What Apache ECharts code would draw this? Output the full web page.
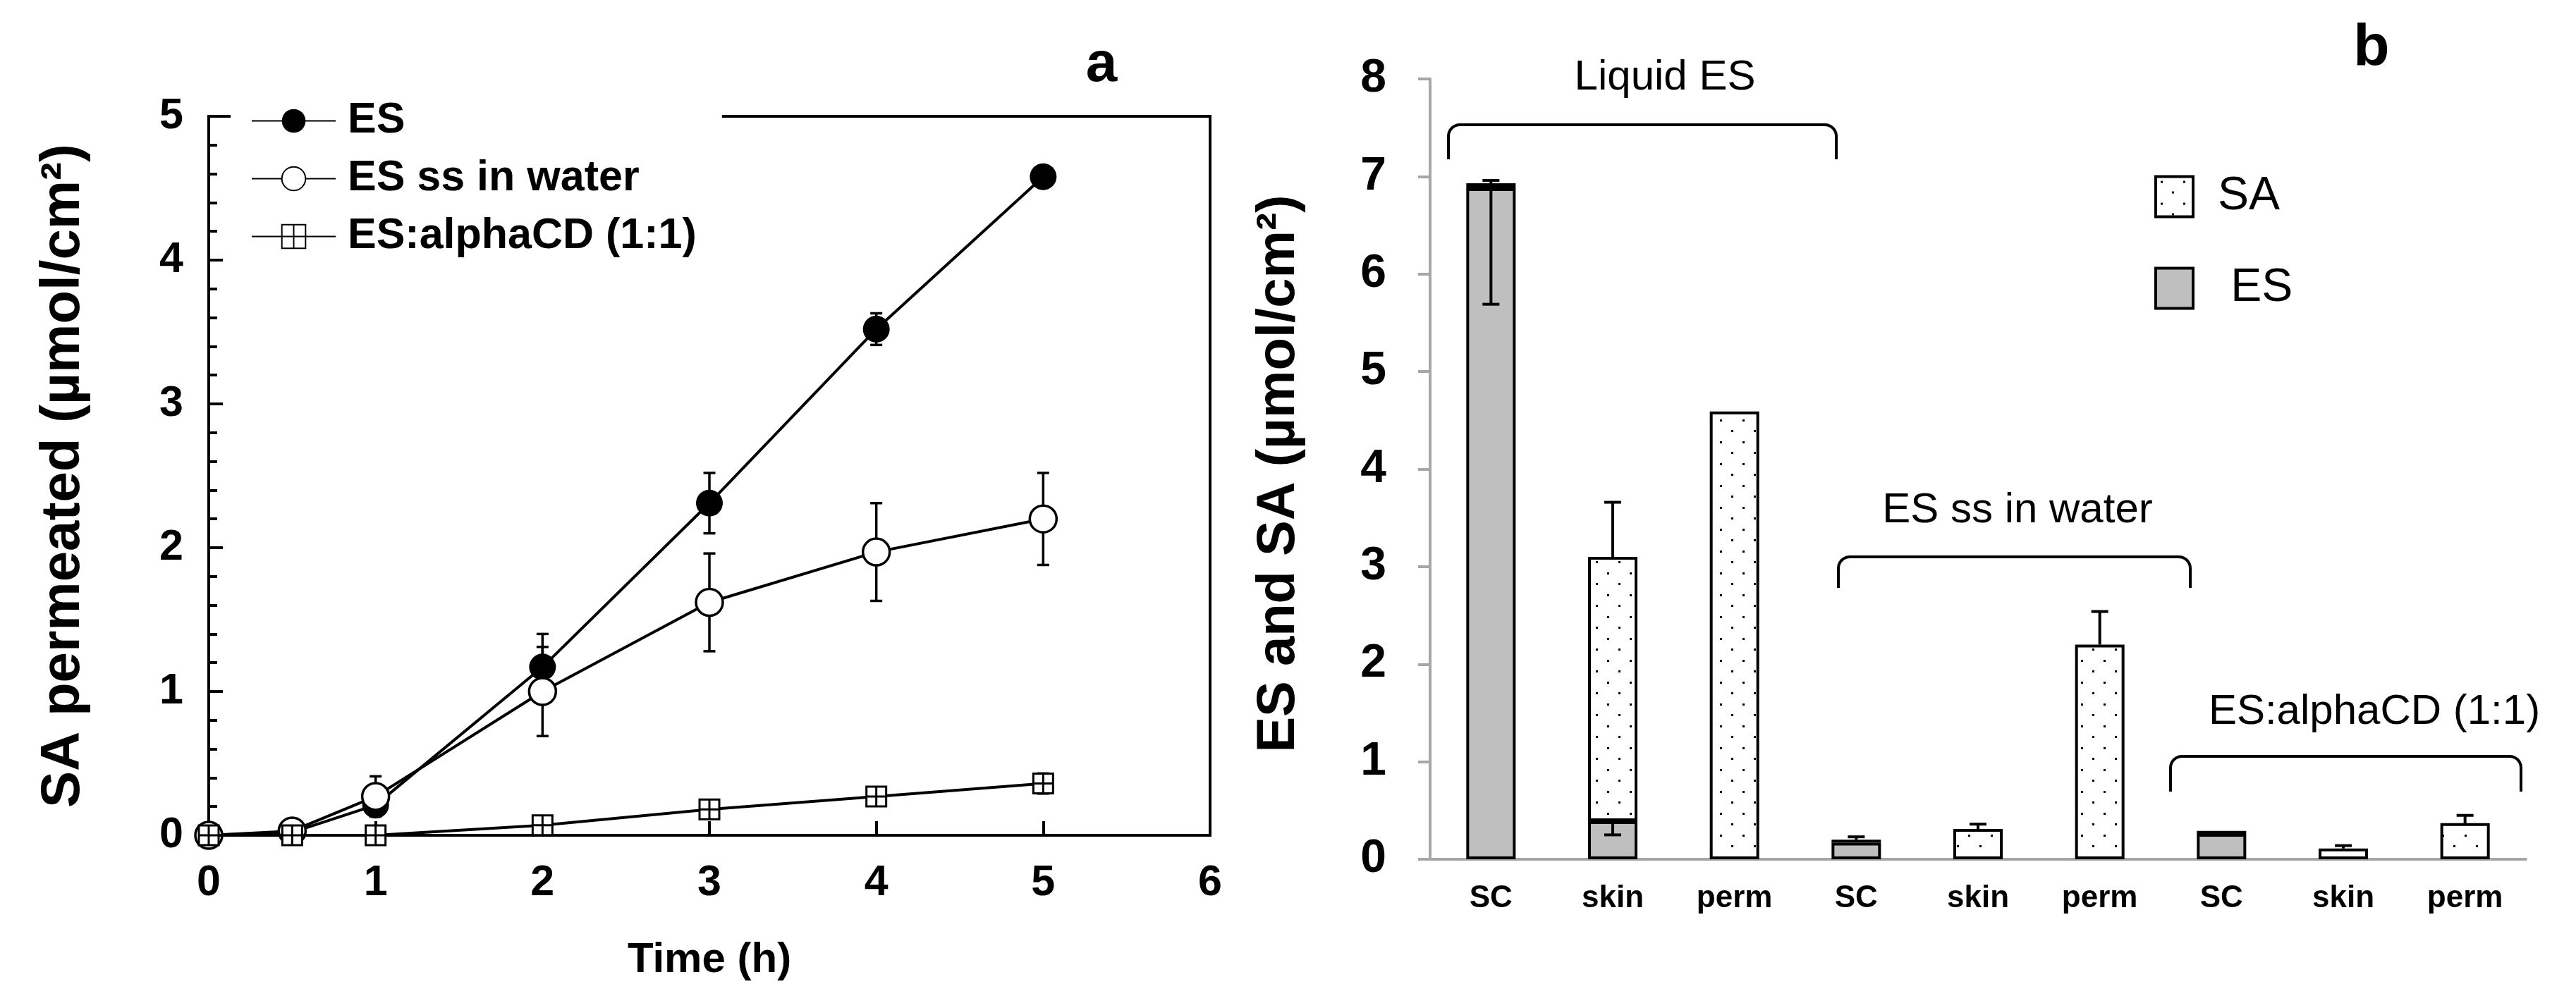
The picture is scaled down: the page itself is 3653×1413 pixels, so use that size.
<!DOCTYPE html>
<html>
<head>
<meta charset="utf-8">
<script src="https://cdn.jsdelivr.net/npm/echarts@6/dist/echarts.min.js"></script>
<style>
  html, body { margin: 0; padding: 0; background: #fff; }
  #main { width: 3653px; height: 1413px; }
</style>
</head>
<body>
<div id="main"></div>
<script>
// panel a: SA permeated vs time
var times = [0, 0.5, 1, 2, 3, 4, 5];
var esVals = [0, 0.02, 0.21, 1.17, 2.31, 3.52, 4.58];
var esErr = [0, 0, 0.06, 0.23, 0.21, 0.11, 0];
var ssVals = [0, 0.03, 0.27, 1.00, 1.62, 1.97, 2.20];
var ssErr = [0, 0, 0.14, 0.31, 0.34, 0.34, 0.32];
var cdVals = [0, 0, 0, 0.07, 0.18, 0.27, 0.36];
var cdErr = [0, 0, 0, 0.01, 0.02, 0.03, 0.07];

// panel b: ES and SA amounts per compartment
var cats = ['SC', 'skin', 'perm', 'SC', 'skin', 'perm', 'SC', 'skin', 'perm'];
var barES = [6.88, 0.39, 0, 0.17, 0, 0, 0.26, 0, 0];
var barSA = [0.05, 2.71, 4.59, 0.03, 0.31, 2.20, 0.03, 0.11, 0.37];
var barESErrMinus = [1.19, 0.14, 0, 0, 0, 0, 0, 0, 0];
var barSAErrPlus = [0.03, 0.56, 0, 0.03, 0.05, 0.34, 0, 0.03, 0.08];

var BOLD = '"Liberation Sans", Arial, sans-serif';
var PLAIN = '"Liberation Sans", Arial, sans-serif';

function pairs(xs, ys) {
    return xs.map(function (x, i) { return [x, ys[i]]; });
}
function triples(xs, ys, es) {
    return xs.map(function (x, i) { return [x, ys[i], es[i]]; });
}

function dotPattern() {
    var c = document.createElement('canvas');
    c.width = 32; c.height = 31;
    var g = c.getContext('2d');
    g.fillStyle = '#fff';
    g.fillRect(0, 0, 32, 31);
    g.fillStyle = '#000';
    g.fillRect(7, 6, 3, 3);
    g.fillRect(23, 21, 3, 3);
    return c;
}

// bracket over a group of bars, rounded at the two top corners
function bracket(x1, x2, yTop, yEnd) {
    var r = 16, pts = [];
    pts.push([x1, yEnd]);
    for (var k = 0; k <= 6; k++) {
        var a = Math.PI - (k / 6) * Math.PI / 2;
        pts.push([x1 + r + r * Math.cos(a), yTop + r - r * Math.sin(a)]);
    }
    for (k = 0; k <= 6; k++) {
        var b = Math.PI / 2 - (k / 6) * Math.PI / 2;
        pts.push([x2 - r + r * Math.cos(b), yTop + r - r * Math.sin(b)]);
    }
    pts.push([x2, yEnd]);
    return { type: 'polyline', shape: { points: pts }, style: { fill: null, stroke: '#000', lineWidth: 4 } };
}

// symmetric error bars for the line panel
function lineErrRender(params, api) {
    var x = api.value(0), y = api.value(1), e = api.value(2);
    if (!e) return;
    var top = api.coord([x, y + e]);
    var bot = api.coord([x, y - e]);
    var w = 8.5;
    var st = { stroke: '#000', lineWidth: 3.5 };
    return {
        type: 'group',
        children: [
            { type: 'line', shape: { x1: top[0], y1: top[1], x2: bot[0], y2: bot[1] }, style: st },
            { type: 'line', shape: { x1: top[0] - w, y1: top[1], x2: top[0] + w, y2: top[1] }, style: st },
            { type: 'line', shape: { x1: bot[0] - w, y1: bot[1], x2: bot[0] + w, y2: bot[1] }, style: st }
        ]
    };
}

// one-sided error bars for the bars: value(1) = base, value(2) = signed error
function barErrRender(params, api) {
    var i = api.value(0), base = api.value(1), e = api.value(2);
    if (!e) return;
    var p0 = api.coord([i, base]);
    var p1 = api.coord([i, base + e]);
    var w = 12;
    var st = { stroke: '#000', lineWidth: 4 };
    return {
        type: 'group',
        children: [
            { type: 'line', shape: { x1: p0[0], y1: p0[1], x2: p1[0], y2: p1[1] }, style: st },
            { type: 'line', shape: { x1: p1[0] - w, y1: p1[1], x2: p1[0] + w, y2: p1[1] }, style: st }
        ]
    };
}

var esMinusData = [], saPlusData = [];
for (var i = 0; i < cats.length; i++) {
    if (barESErrMinus[i]) esMinusData.push([i, barES[i], -barESErrMinus[i]]);
    if (barSAErrPlus[i]) saPlusData.push([i, barES[i] + barSA[i], barSAErrPlus[i]]);
}
function noZero(arr) {
    return arr.map(function (v) { return v === 0 ? '-' : v; });
}

var chart = echarts.init(document.getElementById('main'));
var dots = { image: dotPattern(), repeat: 'repeat' };

var option = {
    animation: false,
    backgroundColor: '#fff',
    grid: [
        { left: 296, right: 3653 - 1716, top: 165, bottom: 1413 - 1185, show: true, borderColor: '#000', borderWidth: 4 },
        { left: 2028, right: 3653 - 3582, top: 112, bottom: 1413 - 1219 }
    ],
    legend: [
        {
            data: ['ES', 'ES ss in water', 'ES:alphaCD (1:1)'],
            orient: 'vertical',
            left: 327, top: 131,
            padding: [10, 36, 10, 29],
            backgroundColor: '#fff',
            itemWidth: 119, itemHeight: 42, itemGap: 21,
            selectedMode: false,
            textStyle: { fontFamily: BOLD, fontWeight: 'bold', fontSize: 61, lineHeight: 60, color: '#000', padding: [0, 0, 0, 12] }
        },
        {
            data: ['SA', ' ES'],
            orient: 'vertical',
            left: 3055, top: 246,
            padding: 0,
            icon: 'rect',
            itemWidth: 53, itemHeight: 57, itemGap: 64,
            selectedMode: false,
            itemStyle: { borderColor: '#000', borderWidth: 4 },
            textStyle: { fontFamily: PLAIN, fontSize: 66, lineHeight: 57, color: '#000', padding: [0, 0, 0, 30] }
        }
    ],
    xAxis: [
        {
            type: 'value', gridIndex: 0, min: 0, max: 6, interval: 1,
            axisLine: { lineStyle: { color: '#000', width: 4 } },
            axisTick: { inside: true, length: 20, lineStyle: { color: '#000', width: 4 } },
            axisLabel: { margin: 38, color: '#000', fontFamily: BOLD, fontWeight: 'bold', fontSize: 61 },
            splitLine: { show: false }
        },
        {
            type: 'category', gridIndex: 1, data: cats,
            axisLine: { lineStyle: { color: '#a6a6a6', width: 4 } },
            axisTick: { length: 14, lineStyle: { color: '#a6a6a6', width: 4 } },
            axisLabel: { margin: 34, color: '#000', fontFamily: BOLD, fontWeight: 'bold', fontSize: 44 }
        }
    ],
    yAxis: [
        {
            type: 'value', gridIndex: 0, min: 0, max: 5, interval: 1,
            axisLine: { show: true, lineStyle: { color: '#000', width: 4 } },
            axisTick: { inside: true, length: 20, lineStyle: { color: '#000', width: 4 } },
            minorTick: { show: true, splitNumber: 5, length: 12, lineStyle: { color: '#000', width: 4 } },
            axisLabel: { margin: 36, color: '#000', fontFamily: BOLD, fontWeight: 'bold', fontSize: 61 },
            splitLine: { show: false }
        },
        {
            type: 'value', gridIndex: 1, min: 0, max: 8, interval: 1,
            axisLine: { show: true, lineStyle: { color: '#a6a6a6', width: 4 } },
            axisTick: { show: true, length: 17, lineStyle: { color: '#a6a6a6', width: 4 } },
            axisLabel: { margin: 62, color: '#000', fontFamily: BOLD, fontWeight: 'bold', fontSize: 66 },
            splitLine: { show: false }
        }
    ],
    series: [
        {
            name: 'ES', type: 'line', xAxisIndex: 0, yAxisIndex: 0,
            data: pairs(times, esVals),
            symbol: 'circle', symbolSize: 38,
            itemStyle: { color: '#000' },
            lineStyle: { color: '#000', width: 4 },
            z: 3
        },
        {
            name: 'ES ss in water', type: 'line', xAxisIndex: 0, yAxisIndex: 0,
            data: pairs(times, ssVals),
            symbol: 'circle', symbolSize: 38,
            itemStyle: { color: '#fff', borderColor: '#000', borderWidth: 3.5 },
            lineStyle: { color: '#000', width: 4 },
            z: 4
        },
        {
            name: 'ES:alphaCD (1:1)', type: 'line', xAxisIndex: 0, yAxisIndex: 0,
            data: pairs(times, cdVals),
            symbol: 'path://M0,0H10V10H0Z M5,0V10 M0,5H10', symbolSize: 28,
            itemStyle: { color: '#fff', borderColor: '#000', borderWidth: 3 },
            lineStyle: { color: '#000', width: 4 },
            z: 5
        },
        {
            name: 'errES', type: 'custom', xAxisIndex: 0, yAxisIndex: 0,
            data: triples(times, esVals, esErr), renderItem: lineErrRender, z: 2
        },
        {
            name: 'errSS', type: 'custom', xAxisIndex: 0, yAxisIndex: 0,
            data: triples(times, ssVals, ssErr), renderItem: lineErrRender, z: 2
        },
        {
            name: 'errCD', type: 'custom', xAxisIndex: 0, yAxisIndex: 0,
            data: triples(times, cdVals, cdErr), renderItem: lineErrRender, z: 2
        },
        {
            name: ' ES', type: 'bar', xAxisIndex: 1, yAxisIndex: 1, stack: 'tot',
            data: noZero(barES), barWidth: 70,
            itemStyle: { color: '#bfbfbf', borderColor: '#000', borderWidth: 4 }
        },
        {
            name: 'SA', type: 'bar', xAxisIndex: 1, yAxisIndex: 1, stack: 'tot',
            data: noZero(barSA), barWidth: 70,
            itemStyle: { color: dots, borderColor: '#000', borderWidth: 4 }
        },
        {
            name: 'errBarES', type: 'custom', xAxisIndex: 1, yAxisIndex: 1,
            data: esMinusData, renderItem: barErrRender, z: 6
        },
        {
            name: 'errBarSA', type: 'custom', xAxisIndex: 1, yAxisIndex: 1,
            data: saPlusData, renderItem: barErrRender, z: 6
        }
    ],
    graphic: [
        { type: 'text', x: 1562, y: 93, style: { text: 'a', font: 'bold 80px ' + BOLD, fill: '#000', textAlign: 'center', textVerticalAlign: 'middle' } },
        { type: 'text', x: 3363, y: 70, style: { text: 'b', font: 'bold 84px ' + BOLD, fill: '#000', textAlign: 'center', textVerticalAlign: 'middle' } },
        { type: 'text', x: 90, y: 675, rotation: Math.PI / 2, style: { text: 'SA permeated (µmol/cm²)', font: 'bold 78px ' + BOLD, fill: '#000', textAlign: 'center', textVerticalAlign: 'middle' } },
        { type: 'text', x: 1006, y: 1362, style: { text: 'Time (h)', font: 'bold 60px ' + BOLD, fill: '#000', textAlign: 'center', textVerticalAlign: 'middle' } },
        { type: 'text', x: 1814, y: 672, rotation: Math.PI / 2, style: { text: 'ES and SA (µmol/cm²)', font: 'bold 76px ' + BOLD, fill: '#000', textAlign: 'center', textVerticalAlign: 'middle' } },
        { type: 'text', x: 2361, y: 110, style: { text: 'Liquid ES', font: '60px ' + PLAIN, fill: '#000', textAlign: 'center', textVerticalAlign: 'middle' } },
        { type: 'text', x: 2861, y: 724, style: { text: 'ES ss in water', font: '60px ' + PLAIN, fill: '#000', textAlign: 'center', textVerticalAlign: 'middle' } },
        { type: 'text', x: 3367, y: 1010, style: { text: 'ES:alphaCD (1:1)', font: '60px ' + PLAIN, fill: '#000', textAlign: 'center', textVerticalAlign: 'middle' } },
        bracket(2054, 2604, 177, 226),
        bracket(2607, 3106, 790, 834),
        bracket(3078, 3575, 1073, 1123)
    ]
};

chart.setOption(option);
</script>
</body>
</html>
